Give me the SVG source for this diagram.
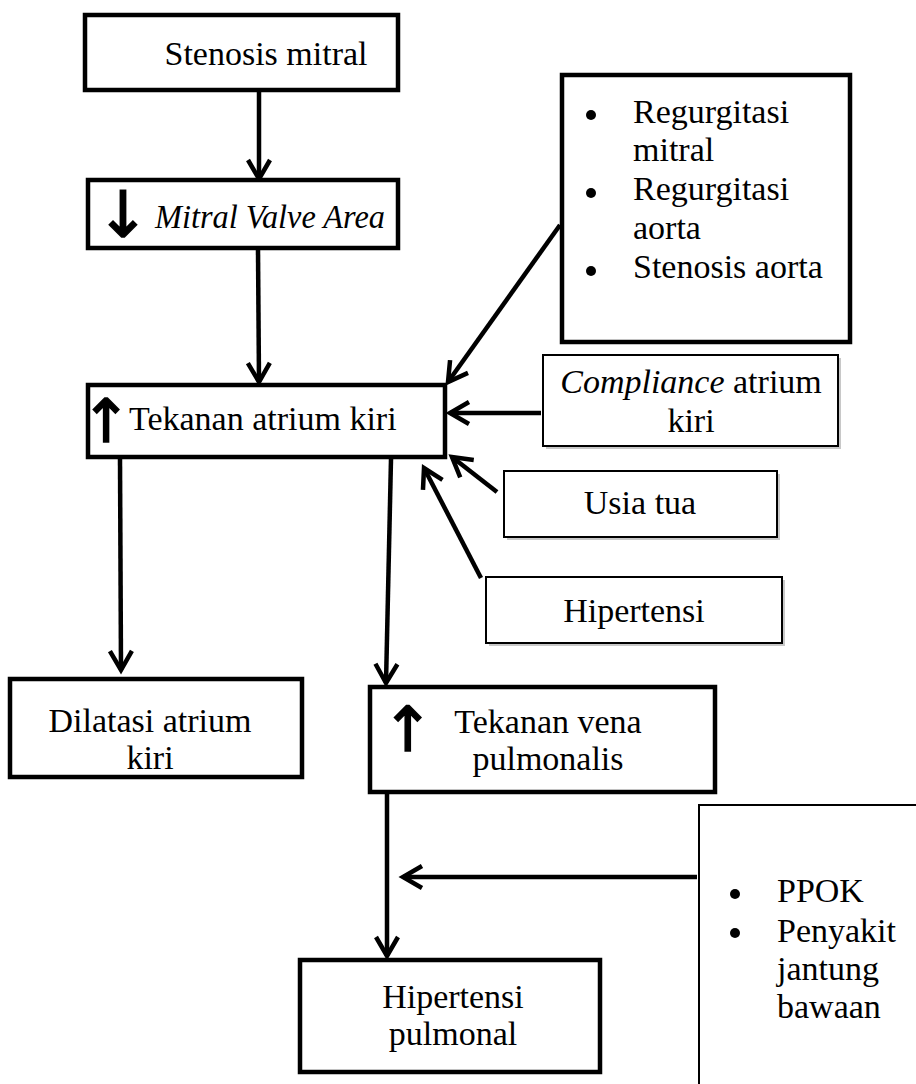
<svg xmlns="http://www.w3.org/2000/svg" width="916" height="1084" viewBox="0 0 916 1084">
<style>
.thick{fill:#fff;stroke:#000;stroke-width:4.5}
.thin{fill:#fff;stroke:#000;stroke-width:2}
.shadow{fill:#c8c8c8;stroke:none}
.t{font-family:"Liberation Serif","Times New Roman",serif;font-size:34px;fill:#000}
.c{text-anchor:middle}
.i{font-style:italic}
.sym{font-family:"DejaVu Sans",sans-serif;fill:#000;stroke:#000;stroke-width:1.5;text-anchor:middle}
.edge{stroke:#000;stroke-width:4.5;fill:none;marker-end:url(#ah)}
</style>
<defs>
<marker id="ah" markerUnits="userSpaceOnUse" markerWidth="40" markerHeight="40" viewBox="-30 -20 40 40" refX="0" refY="0" orient="auto" overflow="visible">
<path d="M-19,-11 L0,0 L-19,11" fill="none" stroke="#000" stroke-width="4.5" stroke-linejoin="miter"/>
</marker>
</defs>
<rect width="916" height="1084" fill="#fff"/>

<g id="connectors">
<line class="edge" x1="259" y1="92" x2="259" y2="179"/>
<line class="edge" x1="258" y1="250" x2="259" y2="382"/>
<line class="edge" x1="560" y1="225" x2="448" y2="382"/>
<line class="edge" x1="541" y1="413" x2="450" y2="413"/>
<line class="edge" x1="497" y1="492" x2="452" y2="457"/>
<line class="edge" x1="481" y1="578" x2="424" y2="468"/>
<line class="edge" x1="120" y1="459" x2="121" y2="670"/>
<line class="edge" x1="391" y1="459" x2="386" y2="683"/>
<line class="edge" x1="387" y1="794" x2="387" y2="956"/>
<line class="edge" x1="697" y1="877" x2="403" y2="877"/>
</g>

<g id="n1">
<rect class="thick" x="85" y="15" width="313" height="75"/>
<text class="t c" x="266" y="65">Stenosis mitral</text>
</g>

<g id="n2">
<rect class="thick" x="88" y="180" width="310" height="68"/>
<text class="sym" x="123" y="237" font-size="64">↓</text>
<text class="t i" x="155" y="228" font-size="33" textLength="230" lengthAdjust="spacingAndGlyphs">Mitral Valve Area</text>
</g>

<g id="n3">
<rect class="thick" x="562" y="75" width="288" height="267"/>
<circle cx="591" cy="115" r="5"/>
<circle cx="591" cy="193" r="5"/>
<circle cx="591" cy="271" r="5"/>
<text class="t" x="633" y="123">Regurgitasi</text>
<text class="t" x="633" y="161">mitral</text>
<text class="t" x="633" y="200">Regurgitasi</text>
<text class="t" x="633" y="239">aorta</text>
<text class="t" x="633" y="278">Stenosis aorta</text>
</g>

<g id="n4">
<rect class="thick" x="88" y="385" width="357" height="72"/>
<text class="sym" x="106" y="442" font-size="60">↑</text>
<text class="t" x="129" y="430">Tekanan atrium kiri</text>
</g>

<g id="n5">
<rect class="shadow" x="546" y="358" width="295" height="91"/>
<rect class="thin" x="543" y="355" width="295" height="91"/>
<text class="t c" x="691" y="393"><tspan class="i">Compliance</tspan> atrium</text>
<text class="t c" x="691" y="432">kiri</text>
</g>

<g id="n6">
<rect class="shadow" x="507" y="474" width="273" height="66"/>
<rect class="thin" x="504" y="471" width="273" height="66"/>
<text class="t c" x="640" y="514">Usia tua</text>
</g>

<g id="n7">
<rect class="shadow" x="489" y="580" width="296" height="66"/>
<rect class="thin" x="486" y="577" width="296" height="66"/>
<text class="t c" x="634" y="622">Hipertensi</text>
</g>

<g id="n8">
<rect class="thick" x="10" y="679" width="292" height="98"/>
<text class="t c" x="150" y="732">Dilatasi atrium</text>
<text class="t c" x="150" y="769">kiri</text>
</g>

<g id="n9">
<rect class="thick" x="370" y="687" width="345" height="105"/>
<text class="sym" x="408" y="751" font-size="62">↑</text>
<text class="t c" x="548" y="733">Tekanan vena</text>
<text class="t c" x="548" y="770">pulmonalis</text>
</g>

<g id="n10">
<rect class="thick" x="300" y="960" width="300" height="112"/>
<text class="t c" x="453" y="1008">Hipertensi</text>
<text class="t c" x="453" y="1045">pulmonal</text>
</g>

<g id="n11">
<path d="M699,1084 V805 H916" fill="none" stroke="#000" stroke-width="2"/>
<circle cx="735" cy="894" r="5"/>
<circle cx="735" cy="933" r="5"/>
<text class="t" x="777" y="902">PPOK</text>
<text class="t" x="777" y="942">Penyakit</text>
<text class="t" x="777" y="980">jantung</text>
<text class="t" x="777" y="1018">bawaan</text>
</g>
</svg>
